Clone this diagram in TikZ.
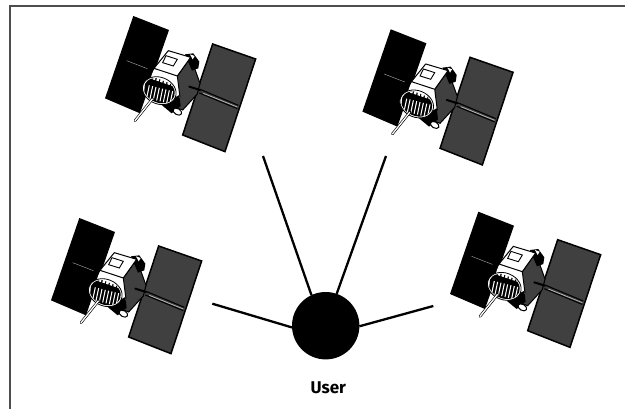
\documentclass[tikz,border=0pt]{standalone}
\usepackage{fontspec}
\setmainfont{Fira Sans}
\definecolor{panelgray}{HTML}{404040}
\definecolor{framegray}{HTML}{4d4d4d}
\tikzset{
  x=1pt,y=-1pt,
  link/.style={line width=2.3pt,black},
  frameline/.style={line width=2pt,framegray},
  sat/.pic={
    \begin{scope}[shift={(90,0)},x=0.3333pt,y=-0.3333pt]
      % black panel
      \fill[black] (130,48) -- (237,90) -- (150,340) -- (45,295) -- cycle;
      \draw[white!75!black,line width=.35pt] (110,182) -- (172,206);
      % grey panel
      \draw[fill=panelgray,draw=black,line width=1.5pt,line join=miter] (368,132) -- (497,177) -- (405,455) -- (278,405) -- cycle;
      % boom
      \draw[black,line width=1.1pt] (330,268) -- (445,316);
      \draw[black,line width=1.1pt] (328,279) -- (442,326);
      \draw[white!75!black,line width=.7pt] (340,280) -- (442,321);
      % right side body face
      \draw[fill=panelgray,draw=black,line width=1pt] (262,228) -- (302,172) -- (330,250) -- (322,282) -- (278,330) -- (250,320) -- cycle;
      % top-right gadget
      \fill[black] (285,163) -- (310,160) -- (328,185) -- (325,205) -- (306,212) -- cycle;
      \fill[white] (300,163) -- (314,168) -- (308,178) -- cycle;
      % top white face
      \fill[white] (192,205) -- (262,228) -- (270,292) -- (250,316) -- (180,240) -- cycle;
      \draw[fill=white,draw=black,line width=1pt,line join=round] (192,205) -- (235,152) -- (302,172) -- (262,228) -- cycle;
      \draw[fill=white,draw=black,line width=.9pt] (228,167) -- (262,178) -- (250,198) -- (218,188) -- cycle;
      \draw[black,line width=1pt] (192,205) -- (178,230);
      \draw[black,line width=1pt] (262,228) -- (270,292);
      % stub
      \draw[black,line width=2pt,line cap=round] (298,260) -- (330,270);
      % lower body
      \fill[black] (215,315) -- (268,285) -- (272,318) -- (245,340) -- cycle;
      \draw[fill=white,draw=black,line width=1pt,rotate around={-30:(262,335)}] (262,335) ellipse [x radius=14,y radius=9];
      % dish
      \draw[fill=white,draw=black,line width=.8pt,rotate around={-22:(208,272)}] (208,272) ellipse [x radius=52,y radius=40];
      \begin{scope}
        \clip[rotate around={-22:(208,272)}] (208,272) ellipse [x radius=48,y radius=36];
        \fill[black] (168,222) -- (270,262) -- (262,325) -- (160,300) -- cycle;
        \foreach \a in {0,...,5}{
          \fill[white] ({190+\a*11},{229+\a*3.7}) -- ++(7,2.5) -- ++(-2,9) -- ++(-7,-2.5) -- cycle;
        }
        \foreach \a in {0,...,7}{
          \draw[white,line width=1.05pt] ({178+\a*10},{256+\a*2.5}) -- ++(-8,38);
        }
      \end{scope}
      % antenna
      \draw[black,line width=2.6pt,line cap=round] (188,296) -- (135,362);
      \draw[white,line width=1.3pt,line cap=round] (187,297) -- (135,362);
    \end{scope}
  }
}
\begin{document}
\begin{tikzpicture}
  \useasboundingbox (0,0) rectangle (625,409);
  \fill[white] (0,0) rectangle (625,409);
  \coordinate (frameTop) at (625,6.5);
  \coordinate (frameCorner) at (9.5,6.5);
  \coordinate (frameBottom) at (9.5,409);
  \draw[frameline,line join=miter] (frameTop) -- (frameCorner) -- (frameBottom);
  \pic at (0,0) {sat};
  \pic at (257.4,13.3) {sat};
  \pic at (-54,202) {sat};
  \pic at (345,195.7) {sat};
  \node[circle,fill=black,inner sep=0pt,outer sep=0pt,minimum size=67.4pt] (user) at (325.7,325.7) {};
  \node[inner sep=0pt,font=\fontsize{17}{19}\selectfont,text=black] (userlabel) at (328.3,387.3) {\textbf{User}};
  \coordinate (s1) at (212.3,303.7);
  \coordinate (s2) at (263,156);
  \coordinate (s3) at (386,156);
  \coordinate (s4) at (433.3,306);
  \draw[link] (s1) -- (user.183);
  \draw[link] (s2) -- (user.115.6);
  \draw[link] (s3) -- (user.71);
  \draw[link] (s4) -- (user.359.5);
\end{tikzpicture}
\end{document}
